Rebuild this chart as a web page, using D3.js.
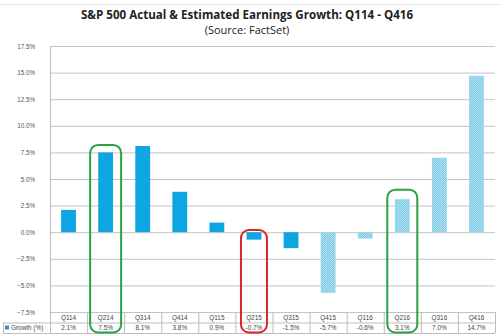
<!DOCTYPE html>
<html>
<head>
<meta charset="utf-8">
<script src="https://cdn.jsdelivr.net/npm/d3@7"></script>
<style>
  html, body { margin: 0; padding: 0; background: #fff; }
  svg { display: block; }
</style>
</head>
<body>
<svg id="chart" width="500" height="334"></svg>
<script>
// Quarterly earnings growth, actual and estimated
const quarters = ["Q114","Q214","Q314","Q414","Q115","Q215","Q315","Q415","Q116","Q216","Q316","Q416"];
const growth   = [2.1, 7.5, 8.1, 3.8, 0.9, -0.7, -1.5, -5.7, -0.6, 3.1, 7.0, 14.7];
const labels   = ["2.1%","7.5%","8.1%","3.8%","0.9%","-0.7%","-1.5%","-5.7%","-0.6%","3.1%","7.0%","14.7%"];
const isEstimate = [false,false,false,false,false,false,false,true,true,true,true,true];
const yTicks = [-7.5, -5, -2.5, 0, 2.5, 5, 7.5, 10, 12.5, 15, 17.5];
// highlighted quarters: [quarter, colour, top value, loop width]
const highlights = [["Q214","#2aa243",8.2,31],["Q215","#d9262b",0.2,26],["Q216","#2aa243",4.0,30]];

const svg = d3.select("#chart");
const W = 500, H = 334;
const plot = {left: 50, right: 495, top: 46, bottom: 312};
const rowH = 10.5;

const x = d3.scaleBand().domain(quarters).range([plot.left, plot.right]).paddingInner(0.6).paddingOuter(0.3);
const xCell = d3.scaleBand().domain(quarters).range([plot.left, plot.right]);
const y = d3.scaleLinear().domain([-7.5, 17.5]).range([plot.bottom, plot.top]);

// faint frame line along the top
svg.append("line").attr("x1", 0).attr("x2", W).attr("y1", 4.5).attr("y2", 4.5)
  .attr("stroke", "#e4e4e4").attr("stroke-width", 1);

// titles
svg.append("text").attr("x", 247).attr("y", 19).attr("text-anchor", "middle")
  .attr("font-family", "Open Sans, sans-serif").attr("font-weight", "bold").attr("font-size", 11.6)
  .attr("fill", "#222").text("S&P 500 Actual & Estimated Earnings Growth: Q114 - Q416");
svg.append("text").attr("x", 247).attr("y", 34).attr("text-anchor", "middle")
  .attr("font-family", "Open Sans, sans-serif").attr("font-size", 11)
  .attr("fill", "#222").text("(Source: FactSet)");

// fine hatch pattern for estimates
const defs = svg.append("defs");
const pat = defs.append("pattern").attr("id", "hatch").attr("patternUnits", "userSpaceOnUse")
  .attr("width", 2).attr("height", 2);
pat.append("rect").attr("width", 2).attr("height", 2).attr("fill", "#a9ddef");
pat.append("path").attr("d", "M0,2 L2,0").attr("stroke", "#79c9e6").attr("stroke-width", 0.8);

// gridlines and y tick labels
const yAxis = d3.axisLeft(y).tickValues(yTicks).tickSize(-(plot.right - plot.left))
  .tickFormat(d => d3.format(".1f")(d) + "%");
const gy = svg.append("g").attr("transform", `translate(${plot.left},0)`).call(yAxis);
gy.select(".domain").remove();
gy.selectAll(".tick line").attr("stroke", "#c4c4c4").attr("stroke-width", 1);
gy.selectAll(".tick text").attr("x", -15).attr("font-family", "Liberation Sans, Arial, sans-serif")
  .attr("font-size", 6.3).attr("fill", "#555");

// plot left border
svg.append("line").attr("x1", plot.left + 0.5).attr("x2", plot.left + 0.5)
  .attr("y1", plot.top).attr("y2", plot.bottom + 2 * rowH).attr("stroke", "#bdbdbd");

// bars
svg.append("g").selectAll("rect").data(quarters).join("rect")
  .attr("x", (d) => x(d))
  .attr("width", x.bandwidth())
  .attr("y", (d, i) => y(Math.max(0, growth[i])))
  .attr("height", (d, i) => Math.abs(y(growth[i]) - y(0)))
  .attr("fill", (d, i) => isEstimate[i] ? "url(#hatch)" : "#0ea5e3");

// data table below the axis
const tb = svg.append("g");
const r1 = plot.bottom, r2 = plot.bottom + rowH, r3 = plot.bottom + 2 * rowH;
tb.append("line").attr("x1", plot.left).attr("x2", plot.right).attr("y1", r2 + 0.5).attr("y2", r2 + 0.5).attr("stroke", "#bdbdbd");
tb.append("line").attr("x1", 3).attr("x2", plot.right).attr("y1", r3 + 0.5).attr("y2", r3 + 0.5).attr("stroke", "#bdbdbd");
tb.append("line").attr("x1", 3).attr("x2", plot.left).attr("y1", r2 + 0.5).attr("y2", r2 + 0.5).attr("stroke", "#bdbdbd");
tb.append("line").attr("x1", 3.5).attr("x2", 3.5).attr("y1", r2).attr("y2", r3).attr("stroke", "#bdbdbd");
tb.selectAll("line.sep").data(quarters).join("line").attr("class", "sep")
  .attr("x1", d => xCell(d) + xCell.bandwidth() + 0.5).attr("x2", d => xCell(d) + xCell.bandwidth() + 0.5)
  .attr("y1", r1).attr("y2", r3).attr("stroke", "#bdbdbd");
tb.selectAll("text.cat").data(quarters).join("text").attr("class", "cat")
  .attr("x", d => xCell(d) + xCell.bandwidth() / 2).attr("y", r1 + 7.6)
  .attr("text-anchor", "middle").attr("font-family", "Liberation Sans, Arial, sans-serif")
  .attr("font-size", 6.4).attr("fill", "#444").text(d => d);
tb.selectAll("text.val").data(quarters).join("text").attr("class", "val")
  .attr("x", d => xCell(d) + xCell.bandwidth() / 2).attr("y", r2 + 7.8)
  .attr("text-anchor", "middle").attr("font-family", "Liberation Sans, Arial, sans-serif")
  .attr("font-size", 6.4).attr("fill", "#444").text((d, i) => labels[i]);
tb.append("rect").attr("x", 5).attr("y", r2 + 3).attr("width", 4).attr("height", 4).attr("fill", "#2e8fc0");
tb.append("text").attr("x", 11).attr("y", r2 + 7.8).attr("font-family", "Liberation Sans, Arial, sans-serif")
  .attr("font-size", 6.4).attr("fill", "#444").text("Growth (%)");

// hand-drawn style highlight loops
svg.append("g").selectAll("rect").data(highlights).join("rect")
  .attr("x", d => xCell(d[0]) + xCell.bandwidth() / 2 - d[3] / 2)
  .attr("width", d => d[3])
  .attr("y", d => y(d[2]))
  .attr("height", d => 332.5 - y(d[2]))
  .attr("rx", 8).attr("ry", 8)
  .attr("fill", "none").attr("stroke", d => d[1]).attr("stroke-width", 2);
</script>
</body>
</html>
